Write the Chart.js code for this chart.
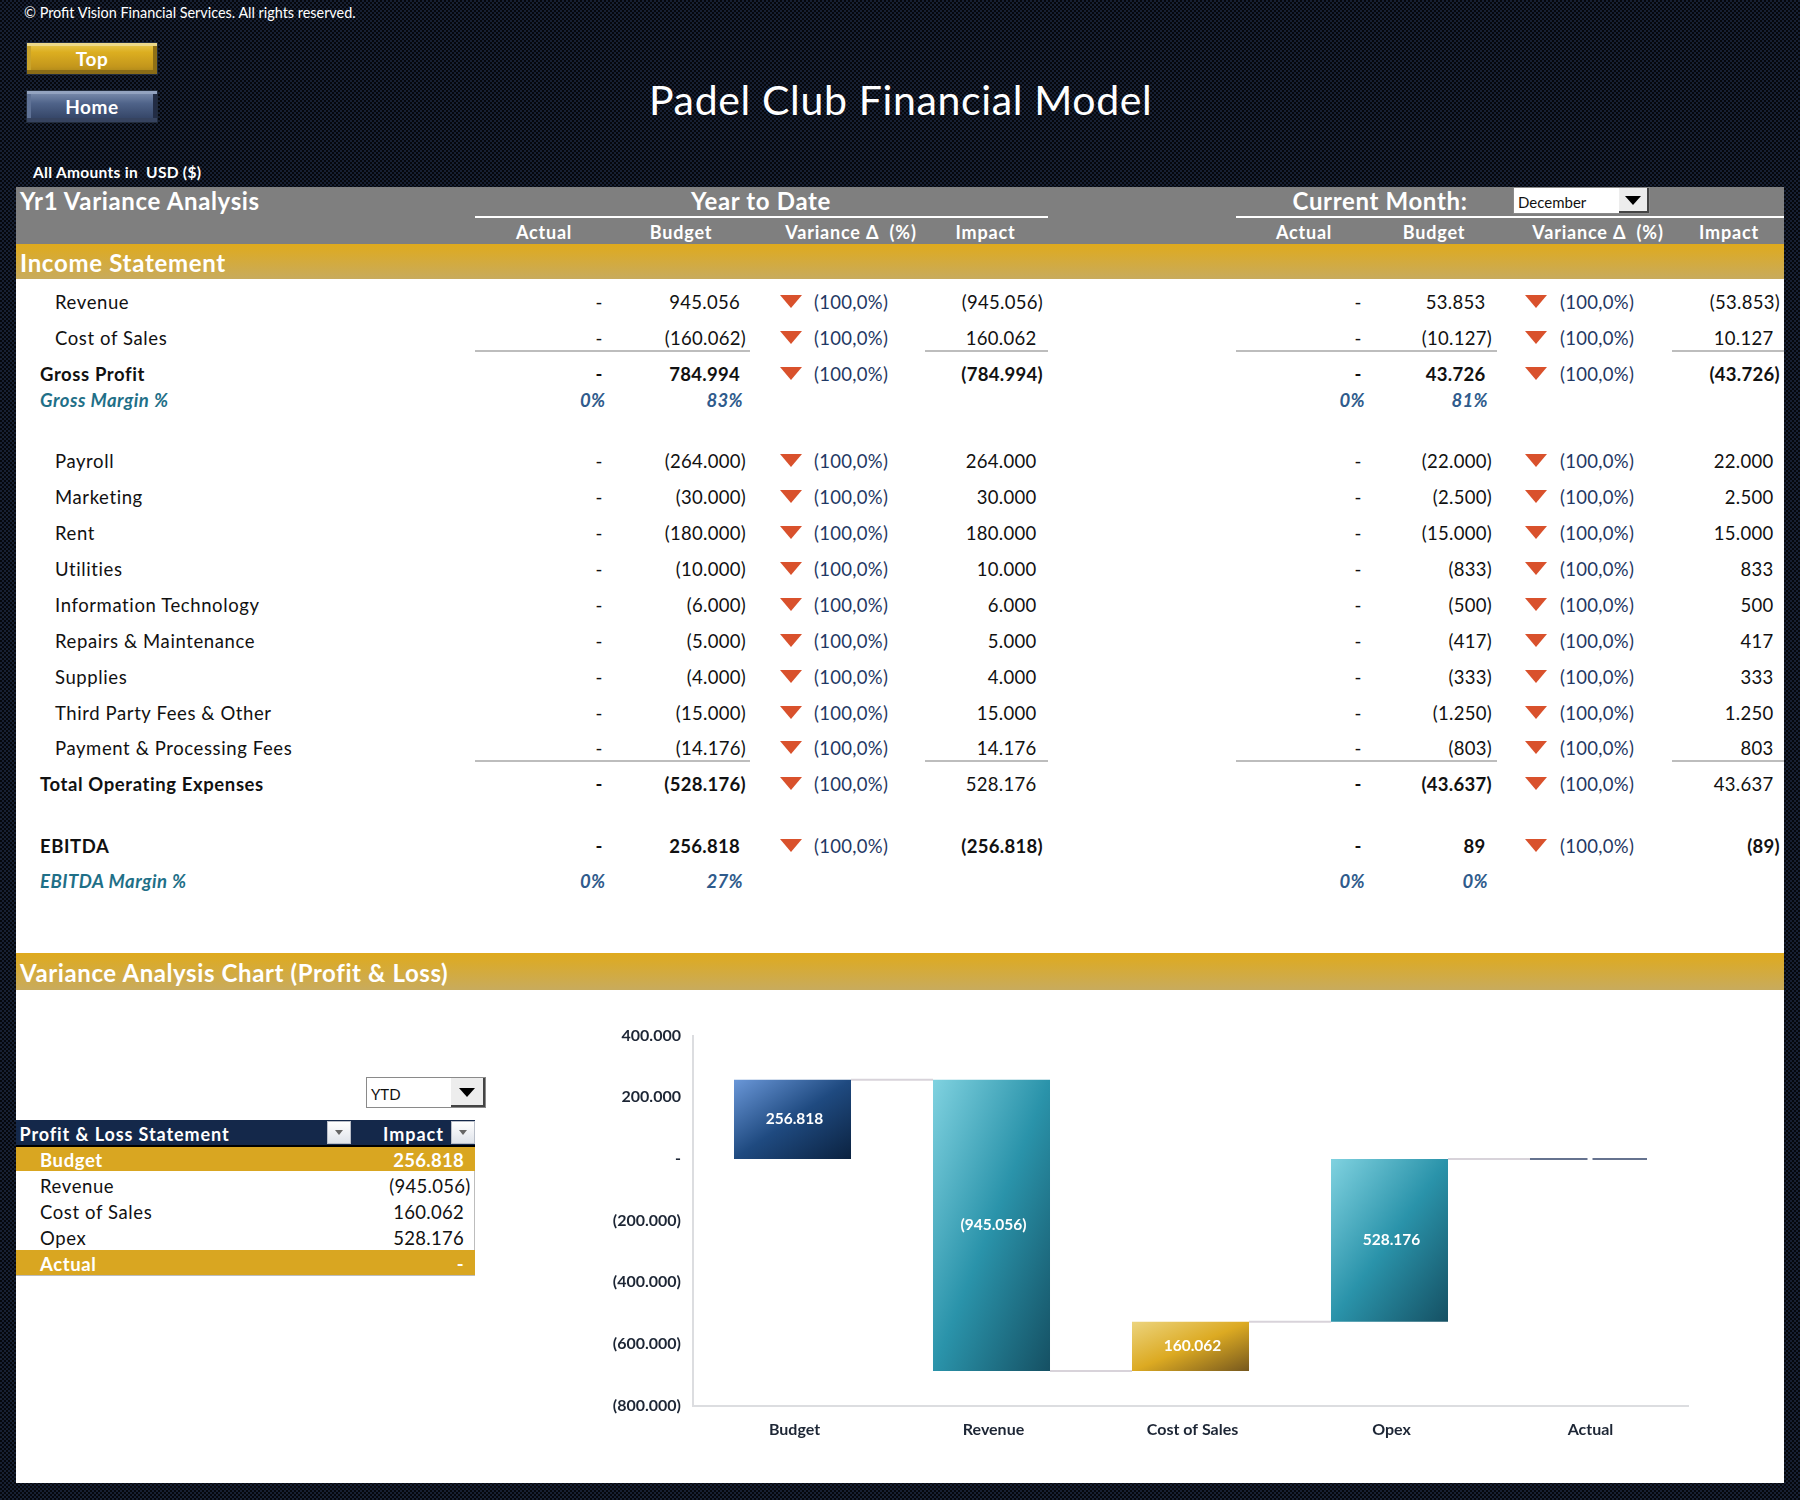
<!DOCTYPE html>
<html><head><meta charset="utf-8">
<script src="https://cdn.jsdelivr.net/npm/chart.js@4"></script>
<style>
html,body{margin:0;padding:0;width:1800px;height:1500px;overflow:hidden;background:#101827}
#page{position:relative;width:1800px;height:1500px;overflow:hidden;font-family:Lato,"Open Sans",sans-serif;
 background:repeating-conic-gradient(#172033 0 25%,#05070c 0 50%) 0 0/4px 4px}
.box{position:absolute}
.t{position:absolute;white-space:pre;line-height:1;font-size:18.5px;color:#111}
.lab{letter-spacing:.6px}
.n{letter-spacing:.3px}
.b{font-weight:700}
.w{color:#fff}
.pct{font-style:italic;font-weight:700;font-size:18.5px;letter-spacing:.3px;color:#2f5b8c}
.teal{color:#1f7088;letter-spacing:.5px}
.var{color:#1f3864;letter-spacing:.3px}
.tri{position:absolute;width:0;height:0;border-left:11px solid transparent;border-right:11px solid transparent;border-top:13px solid #d9512c}
.btn{position:absolute;box-sizing:border-box;left:26px;width:132px;height:33px;border:1px solid #222c3c;color:#fff;font-weight:700;font-size:19px;letter-spacing:.6px;text-align:center;line-height:31px}
.filter{position:absolute;box-sizing:border-box;background:linear-gradient(#fff,#dfe3ea);border:1px solid #b9bec8}
.filter:after{content:"";position:absolute;left:50%;top:8px;margin-left:-4px;border-left:4px solid transparent;border-right:4px solid transparent;border-top:5px solid #666}
.drop{position:absolute;box-sizing:border-box;background:#fff;border:1px solid #8a8a8a}
.dropbtn{position:absolute;top:0;right:0;bottom:0;background:#ededed;border-right:2px solid #444;border-bottom:2px solid #444}
.dropbtn:after{content:"";position:absolute;left:50%;top:50%;margin:-4px 0 0 -8px;border-left:8px solid transparent;border-right:8px solid transparent;border-top:9px solid #000}
#chartBox{position:absolute;left:600px;top:1014px;width:1100px;height:436px}
</style></head>
<body><div id="page">
<div class="box" style="left:16px;top:187px;width:1768px;height:1296px;background:#fff"></div>
<div class="box" style="left:16px;top:187px;width:1768px;height:57px;background:#7f7f7f"></div>
<div class="box" style="left:16px;top:244px;width:1768px;height:35px;background:linear-gradient(#dfaa1d,#c8ab5d)"></div>
<div class="box" style="left:16px;top:953px;width:1768px;height:37px;background:linear-gradient(#dfaa1d,#c8ab5d)"></div>
<div class="btn" style="top:42px;background:linear-gradient(#e9cc52 0,#dcae20 30%,#c4971c 75%,#a8831a 100%);box-shadow:inset 0 -4px 0 #8a6c17,inset 0 3px 0 #edd98a,inset 4px 0 0 #c9a32a,inset -4px 0 0 #8f7016">Top</div>
<div class="btn" style="top:90px;background:linear-gradient(#8092b2 0,#4f6389 40%,#2f3f60 100%);box-shadow:inset 0 -4px 0 #36435f,inset 0 3px 0 #93a3c0,inset 4px 0 0 #5f7296,inset -4px 0 0 #222c44">Home</div>
<div class="box" id="chartBox"><canvas id="c" width="1100" height="436"></canvas></div>
</div>
<script>
const rowLabels = ["Revenue","Cost of Sales","Gross Profit","Payroll","Marketing","Rent","Utilities","Information Technology","Repairs & Maintenance","Supplies","Third Party Fees & Other","Payment & Processing Fees","Total Operating Expenses","EBITDA"];
const ytdBudget = [945056,-160062,784994,-264000,-30000,-180000,-10000,-6000,-5000,-4000,-15000,-14176,-528176,256818];
const ytdImpact = [-945056,160062,-784994,264000,30000,180000,10000,6000,5000,4000,15000,14176,528176,-256818];
const monthBudget = [53853,-10127,43726,-22000,-2500,-15000,-833,-500,-417,-333,-1250,-803,-43637,89];
const monthImpact = [-53853,10127,-43726,22000,2500,15000,833,500,417,333,1250,803,43637,-89];
const rowCentres = [302,338,374,461,497,533,569,604.5,640.5,676.5,712.5,748,784,846];
const boldBudget = [2,12,13];
const boldImpact = [2,13];
const boldLabels = [2,12,13];
const marginRows = ["Gross Margin %","EBITDA Margin %"];
const marginYtdActual = ["0%","0%"];
const marginYtdBudget = ["83%","27%"];
const marginMonthActual = ["0%","0%"];
const marginMonthBudget = ["81%","0%"];
const categories = ["Budget","Revenue","Cost of Sales","Opex","Actual"];
const impactValues = [256818,-945056,160062,528176,0];
const barStarts = [0,256818,-688238,-528176,0];
const barEnds = [256818,-688238,-528176,0,0];
const gradientStops = [["#6a97d8","#1f4a80","#0b2240"],["#80d2e0","#2a93aa","#155063"],["#80d2e0","#2a93aa","#155063"],["#80d2e0","#2a93aa","#155063"]];
const goldStops = ["#ecd47e","#dcaa22","#76581e"];
const axisMin = -800000, axisMax = 400000, axisStep = 200000;

const fmt = v => { if (v === 0) return "-"; const s = Math.abs(v).toLocaleString("de-DE"); return v < 0 ? "("+s+")" : s; };

const page = document.getElementById("page");
function put(x,y,str,cls,align,extra){
  const e=document.createElement("div"); e.className="t "+(cls||""); e.textContent=str;
  let tr="translateY(-50%)";
  if(align==="r"){e.style.right=(1800-x)+"px";}
  else if(align==="c"){e.style.left=x+"px";tr="translate(-50%,-50%)";}
  else e.style.left=x+"px";
  e.style.top=y+"px"; e.style.transform=tr;
  if(extra) Object.assign(e.style,extra);
  page.appendChild(e); return e;
}
function rule(x1,x2,y,color,h){const d=document.createElement("div");d.className="box";
 Object.assign(d.style,{left:x1+"px",top:y+"px",width:(x2-x1)+"px",height:(h||2)+"px",background:color});page.appendChild(d);}
function num(xPos,xNeg,y,v,bold){ put(v<0?xNeg:xPos,y,fmt(v),(bold?"b ":"")+"n","r"); }

put(24,12.5,"© Profit Vision Financial Services. All rights reserved.","w","l",{fontSize:"14.4px"});
put(649,98.5,"Padel Club Financial Model","w","l",{fontSize:"41px",letterSpacing:".65px"});
put(33,173,"All Amounts in  USD ($)","w b","l",{fontSize:"15.5px",letterSpacing:".3px"});
put(20,201,"Yr1 Variance Analysis","w b","l",{fontSize:"24px",letterSpacing:".65px"});
put(761,201,"Year to Date","w b","c",{fontSize:"24px",letterSpacing:".65px"});
put(1380,201,"Current Month:","w b","c",{fontSize:"24px",letterSpacing:".65px"});
[[544,"Actual"],[681,"Budget"],[851,"Variance Δ  (%)"],[985.5,"Impact"],[1304,"Actual"],[1434,"Budget"],[1598,"Variance Δ  (%)"],[1729,"Impact"]]
 .forEach(h=>put(h[0],232,h[1],"w b","c",{fontSize:"18px",letterSpacing:".8px"}));
rule(475,1047.5,216,"#fff"); rule(1236,1784,216,"#fff");
put(20,263,"Income Statement","w b","l",{fontSize:"24px",letterSpacing:".7px"});
put(20,972.5,"Variance Analysis Chart (Profit & Loss)","w b","l",{fontSize:"24px",letterSpacing:".6px"});

function drop(x,y,w,h,bw,txt){const d=document.createElement("div");d.className="drop";
 Object.assign(d.style,{left:x+"px",top:y+"px",width:w+"px",height:h+"px"});
 const b=document.createElement("div");b.className="dropbtn";b.style.width=bw+"px";d.appendChild(b);page.appendChild(d);
 put(x+5,y+h/2+1,txt,"","l",{fontSize:"15px"});}
drop(1513,187,137,27,28,"December");
drop(366,1077,120,31,32,"YTD");

rowLabels.forEach((lab,i)=>{
  const y=rowCentres[i];
  const bl=boldLabels.includes(i);
  put(bl?40:55,y,lab,(bl?"b ":"")+"lab","l");
  put(599,y,"-",bl?"b":"","c"); put(1358,y,"-",bl?"b":"","c");
  num(740,746,y,ytdBudget[i],boldBudget.includes(i));
  num(1036.5,1043,y,ytdImpact[i],boldImpact.includes(i));
  num(1485.5,1492,y,monthBudget[i],boldBudget.includes(i));
  num(1773.5,1780,y,monthImpact[i],boldImpact.includes(i));
  [780,1525].forEach((x,k)=>{
    const tr=document.createElement("div");tr.className="tri";tr.style.left=x+"px";tr.style.top=(y-7)+"px";page.appendChild(tr);
    put(k?1560:814,y,"(100,0%)","var","l");
  });
});
[350,760].forEach(y=>{rule(475,750,y,"#bdbdbd");rule(925,1047.5,y,"#bdbdbd");rule(1236,1496.5,y,"#bdbdbd");rule(1672,1784,y,"#bdbdbd");});
[399.5,881].forEach((y,i)=>{
  put(40,y,marginRows[i],"pct teal","l");
  put(605.5,y,marginYtdActual[i],"pct","r");
  put(743,y,marginYtdBudget[i],"pct","r");
  put(1365,y,marginMonthActual[i],"pct","r");
  put(1488,y,marginMonthBudget[i],"pct","r");
});

/* mini table */
rule(16,475,1120,"#14284a",25);
rule(16,475,1145,"#000",2);
rule(16,475,1147,"#d9a621",24);
rule(16,475,1250,"#d9a621",25);
rule(16,475,1275,"#bdbdbd",1);
rule(474,475,1171,"#bdbdbd",79);
put(19.5,1134,"Profit & Loss Statement","w b","l",{fontSize:"18px",letterSpacing:".9px"});
put(444,1134,"Impact","w b","r",{fontSize:"18px",letterSpacing:"1px"});
[[327,24],[451,24]].forEach(f=>{const d=document.createElement("div");d.className="filter";
 Object.assign(d.style,{left:f[0]+"px",top:"1121px",width:f[1]+"px",height:"23px"});page.appendChild(d);});
[1160,1186,1212,1238,1264].forEach((y,i)=>{
  const gold=i===0||i===4;
  put(40,y,categories[i],(gold?"w b ":"")+"lab","l");
  put(impactValues[i]<0?470.5:464,y,fmt(impactValues[i]),(gold?"w b ":"")+"n","r");
});

/* chart */
const barWidthPx = 117;
function barFill(c){
  if(c.type!=="data") return "#66738f";
  const i=c.dataIndex;
  if(barStarts[i]===barEnds[i]) return "#66738f";
  const {x:xs,y:ys}=c.chart.scales;
  if(!xs||!ys) return "#2a93aa";
  const cx=xs.getPixelForValue(i), y1=ys.getPixelForValue(Math.max(barStarts[i],barEnds[i])), y2=ys.getPixelForValue(Math.min(barStarts[i],barEnds[i]));
  if(![cx,y1,y2].every(Number.isFinite)||y2<=y1) return "#2a93aa";
  const w=barWidthPx,h=y2-y1,cy=(y1+y2)/2,n=Math.hypot(w,h),dx=h/n,dy=w/n,L=w*h/n;
  const g=c.chart.ctx.createLinearGradient(cx-dx*L,cy-dy*L,cx+dx*L,cy+dy*L);
  const st=i===2?goldStops:gradientStops[i];
  g.addColorStop(0,st[0]);g.addColorStop(.5,st[1]);g.addColorStop(1,st[2]);
  return g;
}
const connectors={id:"connectors",beforeDatasetsDraw(ch){
  const bars=ch.getDatasetMeta(0).data,ctx=ch.ctx;
  ctx.save();ctx.strokeStyle="#d8d3da";ctx.lineWidth=2;
  for(let i=0;i<bars.length-1;i++){
    const y=ch.scales.y.getPixelForValue(barEnds[i]);
    ctx.beginPath();ctx.moveTo(bars[i].x+bars[i].width/2,y);ctx.lineTo(bars[i+1].x-bars[i+1].width/2,y);ctx.stroke();
  }
  ctx.restore();
}};
const valueLabels={id:"valueLabels",afterDatasetsDraw(ch){
  const bars=ch.getDatasetMeta(0).data,ctx=ch.ctx;
  ctx.save();ctx.fillStyle="#fff";ctx.font="700 15.5px Lato";ctx.textAlign="center";ctx.textBaseline="middle";
  bars.forEach((b,i)=>{
    const y=ch.scales.y.getPixelForValue((barStarts[i]+barEnds[i])/2);
    if(i===4){ctx.fillRect(b.x-1,y-2,5,4);return;}
    ctx.fillText(fmt(impactValues[i]),b.x+2,y);
  });
  ctx.restore();
}};
new Chart(document.getElementById("c"),{
  type:"bar",
  data:{labels:categories,datasets:[{label:"Impact",data:barStarts.map((s,i)=>[s,barEnds[i]]),backgroundColor:barFill,minBarLength:2,categoryPercentage:1,barPercentage:.588,borderWidth:0}]},
  plugins:[connectors,valueLabels],
  options:{responsive:false,animation:false,devicePixelRatio:1,
    layout:{padding:{top:14,right:12,left:0,bottom:0}},
    plugins:{legend:{display:false},tooltip:{enabled:false},title:{display:false}},
    scales:{
      x:{grid:{display:false,drawTicks:false},border:{color:"#dcdde0",width:2},
         ticks:{font:{family:"Lato",size:16,weight:"700"},color:"#1d2635",padding:15,labelOffset:2,maxRotation:0},
         afterFit(s){s.height=44.5;}},
      y:{min:axisMin,max:axisMax,grid:{display:false,drawTicks:false},border:{color:"#dcdde0",width:2},
         ticks:{stepSize:axisStep,font:{family:"Lato",size:16,weight:"700"},color:"#1d2635",padding:12,callback:v=>fmt(v)},
         afterFit(s){s.width=93;}}
    }
  }
});
</script>
</body></html>
